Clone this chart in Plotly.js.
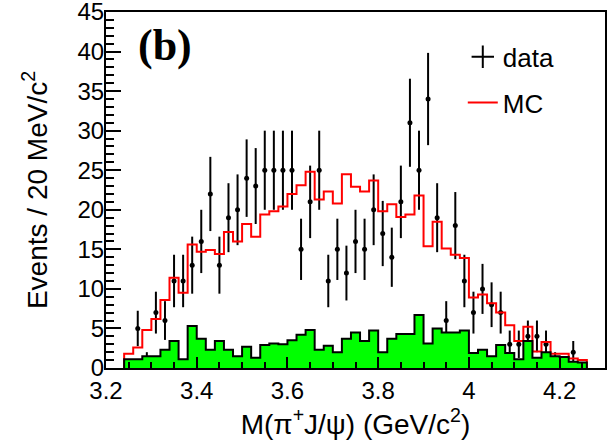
<!DOCTYPE html>
<html>
<head>
<meta charset="utf-8">
<script src="https://cdn.plot.ly/plotly-3.0.1.min.js"></script>
<style>
html, body { margin: 0; padding: 0; background: #ffffff; }
#chart { width: 607px; height: 446px; }
</style>
</head>
<body>
<div id="chart"></div>
<script>
// Bin centres of M(pi+ J/psi) in GeV/c^2 (20 MeV bins)
const binCenters = [3.25, 3.27, 3.29, 3.31, 3.33, 3.35, 3.37, 3.39, 3.41, 3.43,
  3.45, 3.47, 3.49, 3.51, 3.53, 3.55, 3.57, 3.59, 3.61, 3.63,
  3.65, 3.67, 3.69, 3.71, 3.73, 3.75, 3.77, 3.79, 3.81, 3.83,
  3.85, 3.87, 3.89, 3.91, 3.93, 3.95, 3.97, 3.99, 4.01, 4.03,
  4.05, 4.07, 4.09, 4.11, 4.13, 4.15, 4.17, 4.19, 4.21, 4.23, 4.25];
const binWidth = 0.02;

// Data events per bin
const dataCounts = [0, 5, 1, 7, 6, 11, 11, 13, 16, 22,
  13, 19, 20, 24, 23, 25, 25, 25, 25, 15,
  21, 25, 11, 15, 12, 16, 15, 20, 17, 14,
  21, 31, 25, 34, 19, 6, 18, 11, 7, 10,
  8, 7, 3, 3, 4, 4, 3, 1, 0, 2, 0];

// MC expectation per bin
const mcCounts = [1.8, 2.6, 4.8, 6.2, 8.6, 11.4, 9.5, 15.6, 14.7, 14.9,
  14.4, 17.2, 16.0, 18.2, 16.6, 19.4, 19.8, 20.4, 22.0, 23.1,
  24.8, 21.3, 22.3, 20.8, 24.5, 22.9, 22.3, 23.7, 19.8, 20.7,
  19.1, 19.4, 21.8, 15.4, 18.5, 15.1, 14.3, 13.9, 8.9, 9.3,
  8.2, 7.0, 5.4, 3.4, 5.2, 2.1, 3.3, 1.8, 1.8, 1.2, 1.0];

// Background (green) per bin
const bkgCounts = [1.1, 1.1, 1.5, 1.5, 2.3, 3.4, 1.1, 5.3, 3.7, 2.3,
  3.4, 2.3, 1.5, 2.7, 1.3, 2.9, 3.1, 3.0, 3.5, 4.2,
  4.8, 2.3, 2.8, 2.0, 3.7, 4.5, 3.4, 4.75, 2.0, 3.7,
  4.3, 4.3, 6.7, 3.1, 5.0, 4.5, 4.5, 4.75, 1.9, 2.3,
  1.5, 2.9, 1.9, 1.1, 3.4, 1.3, 2.0, 1.5, 1.4, 0.8, 0.7];

const xTickVals = [3.2, 3.4, 3.6, 3.8, 4.0, 4.2];
const xTickText = ['3.2', '3.4', '3.6', '3.8', '4', '4.2'];
const yTickVals = [0, 5, 10, 15, 20, 25, 30, 35, 40, 45];

function stepOutline(centers, vals) {
  const xs = [], ys = [];
  const first = centers[0] - binWidth / 2;
  xs.push(first); ys.push(0);
  for (let i = 0; i < centers.length; i++) {
    xs.push(centers[i] - binWidth / 2); ys.push(vals[i]);
  }
  const last = centers[centers.length - 1] + binWidth / 2;
  xs.push(last); ys.push(vals[vals.length - 1]);
  xs.push(last); ys.push(0);
  return { x: xs, y: ys };
}

const dx = [], dy = [], de = [];
for (let i = 0; i < binCenters.length; i++) {
  if (dataCounts[i] > 0) {
    dx.push(binCenters[i]); dy.push(dataCounts[i]); de.push(Math.sqrt(dataCounts[i]));
  }
}

const mcStep = stepOutline(binCenters, mcCounts);
const bkgStep = stepOutline(binCenters, bkgCounts);

const FONT = '"Liberation Sans", Arial, Helvetica, sans-serif';

const traces = [
  { // legend entry for data
    x: [null], y: [null], type: 'scatter', mode: 'markers', name: 'data',
    legendgroup: 'a',
    marker: { symbol: 'cross-thin-open', size: 26, color: '#000', line: { color: '#000', width: 2 } },
    hoverinfo: 'skip'
  },
  { // data points
    x: dx, y: dy, type: 'scatter', mode: 'markers', showlegend: false,
    marker: { symbol: 'circle', size: 5, color: '#000' },
    error_y: { type: 'data', array: de, visible: true, color: '#000', thickness: 2, width: 0 }
  },
  { // MC
    x: mcStep.x, y: mcStep.y, type: 'scatter', mode: 'lines', name: 'MC',
    legendgroup: 'b',
    line: { shape: 'hv', color: '#ff0000', width: 2 }
  },
  { // background
    x: bkgStep.x, y: bkgStep.y, type: 'scatter', mode: 'lines', showlegend: false,
    fill: 'tozeroy', fillcolor: '#00ff00',
    line: { shape: 'hv', color: '#000', width: 2 }
  }
];

const layout = {
  width: 607, height: 446,
  margin: { l: 106, r: 2, t: 12, b: 78 },
  paper_bgcolor: '#ffffff', plot_bgcolor: '#ffffff',
  font: { family: FONT, color: '#000', size: 24 },
  showlegend: true,
  legend: {
    x: 0.715, y: 0.94, xanchor: 'left', yanchor: 'top',
    bgcolor: 'rgba(0,0,0,0)', borderwidth: 0,
    font: { family: FONT, size: 26, color: '#000' },
    traceorder: 'grouped', tracegroupgap: 9
  },
  xaxis: {
    range: [3.2, 4.3], autorange: false,
    tickvals: xTickVals, ticktext: xTickText,
    ticks: 'inside', ticklen: 11, tickwidth: 2, tickcolor: '#000',
    minor: { dtick: 0.05, tick0: 3.2, ticks: 'inside', ticklen: 6, tickwidth: 2, tickcolor: '#000' },
    showline: true, linecolor: '#000', linewidth: 2, mirror: true,
    showgrid: false, zeroline: false,
    ticklabeloverflow: 'allow',
    tickfont: { family: FONT, size: 24, color: '#000' },
    title: { text: 'M(π<sup>+</sup>J/ψ) (GeV/c<sup>2</sup>)', font: { family: FONT, size: 28, color: '#000' }, standoff: 8 }
  },
  yaxis: {
    range: [0, 45], autorange: false,
    tickvals: yTickVals,
    ticks: 'inside', ticklen: 15, tickwidth: 2, tickcolor: '#000',
    minor: { dtick: 1, tick0: 0, ticks: 'inside', ticklen: 8, tickwidth: 2, tickcolor: '#000' },
    showline: true, linecolor: '#000', linewidth: 2, mirror: true,
    showgrid: false, zeroline: false,
    ticklabeloverflow: 'allow',
    ticklabelstandoff: -5,
    tickfont: { family: FONT, size: 24, color: '#000' },
    title: { text: 'Events / 20 MeV/c<sup>2</sup>', font: { family: FONT, size: 28, color: '#000' }, standoff: 22 }
  },
  annotations: [
    { text: '<b>(b)</b>', xref: 'paper', yref: 'paper', x: 0.118, y: 0.907,
      xanchor: 'center', yanchor: 'middle', showarrow: false,
      font: { family: '"Liberation Serif", "Times New Roman", serif', size: 44, color: '#000' } }
  ]
};

Plotly.newPlot('chart', traces, layout, { displayModeBar: false, staticPlot: true });
</script>
</body>
</html>
